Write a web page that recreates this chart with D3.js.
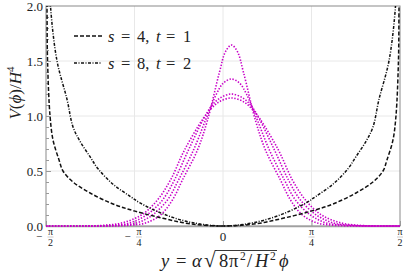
<!DOCTYPE html>
<html>
<head>
<meta charset="utf-8">
<script src="https://cdnjs.cloudflare.com/ajax/libs/d3/7.8.5/d3.min.js"></script>
<style>
body { margin: 0; background: #fff; }
svg text { font-family: "Liberation Serif", "DejaVu Serif", serif; fill: #222; white-space: pre; }
</style>
</head>
<body>
<svg id="chart" width="405" height="277"></svg>
<script>
// tick values and labels
var yTicks = [0, 0.5, 1.0, 1.5, 2.0];
var yTickLabels = ["0.0", "0.5", "1.0", "1.5", "2.0"];
var xTicks = [-Math.PI / 2, -Math.PI / 4, 0, Math.PI / 4, Math.PI / 2];
var xTickSigns = ["\u2212", "\u2212", "", "", ""];
var xTickNums = ["\u03c0", "\u03c0", "0", "\u03c0", "\u03c0"];
var xTickDens = ["2", "4", "", "4", "2"];

// s = 4, t = 1 (dashed)
var dashX = [-1.565, -1.562, -1.557, -1.535, -1.508, -1.455, -1.420, -1.331, -1.180, -0.976, -0.781, -0.532, -0.293, 0,
             0.293, 0.532, 0.781, 0.976, 1.180, 1.331, 1.420, 1.455, 1.508, 1.535, 1.557, 1.562, 1.565];
var dashV = [2.3, 2.0, 1.5, 1.0, 0.78, 0.60, 0.50, 0.40, 0.30, 0.20, 0.135, 0.07, 0.02, 0,
             0.02, 0.07, 0.135, 0.20, 0.30, 0.40, 0.50, 0.60, 0.78, 1.0, 1.5, 2.0, 2.3];

// s = 8, t = 2 (dash-dot)
var dotDashX = [-1.540, -1.531, -1.473, -1.384, -1.331, -1.269, -1.180, -1.109, -0.976, -0.825, -0.737, -0.532, -0.293, 0,
                0.293, 0.532, 0.737, 0.825, 0.976, 1.109, 1.180, 1.269, 1.331, 1.384, 1.473, 1.531, 1.540];
var dotDashV = [2.3, 2.0, 1.5, 1.15, 0.90, 0.77, 0.63, 0.52, 0.38, 0.27, 0.21, 0.11, 0.035, 0,
                0.035, 0.11, 0.21, 0.27, 0.38, 0.52, 0.63, 0.77, 0.90, 1.15, 1.5, 2.0, 2.3];

// magenta dotted curves
var bump1X = [-1.571, -1.1, -0.857, -0.688, -0.555, -0.449, -0.360, -0.227, -0.138, -0.031, 0.022, 0.075,
              0.128, 0.181, 0.288, 0.377, 0.510, 0.599, 0.705, 0.838, 1.007, 1.25, 1.571];
var bump1V = [0, 0, 0.005, 0.027, 0.10, 0.236, 0.418, 0.69, 0.96, 1.40, 1.585, 1.645,
              1.585, 1.40, 0.96, 0.69, 0.418, 0.236, 0.10, 0.027, 0.005, 0, 0];
var bump2X = [-1.571, -1.2, -0.946, -0.768, -0.626, -0.493, -0.395, -0.262, -0.156, -0.058, 0.004, 0.075,
              0.146, 0.208, 0.306, 0.412, 0.545, 0.643, 0.776, 0.918, 1.096, 1.3, 1.571];
var bump2V = [0, 0, 0.005, 0.027, 0.10, 0.236, 0.418, 0.69, 0.96, 1.20, 1.30, 1.336,
              1.30, 1.20, 0.96, 0.69, 0.418, 0.236, 0.10, 0.027, 0.005, 0, 0];
var bump3X = [-1.571, -1.25, -1.008, -0.830, -0.679, -0.537, -0.431, -0.307, -0.174, -0.102, -0.032, 0.075,
              0.182, 0.252, 0.324, 0.457, 0.581, 0.687, 0.829, 0.980, 1.158, 1.35, 1.571];
var bump3V = [0, 0, 0.005, 0.027, 0.10, 0.236, 0.418, 0.69, 0.97, 1.09, 1.16, 1.20,
              1.16, 1.09, 0.97, 0.69, 0.418, 0.236, 0.10, 0.027, 0.005, 0, 0];
var bump4X = [-1.571, -1.3, -1.079, -0.901, -0.724, -0.582, -0.466, -0.342, -0.174, -0.102, -0.032, 0.075,
              0.182, 0.252, 0.324, 0.492, 0.616, 0.732, 0.874, 1.051, 1.229, 1.4, 1.571];
var bump4V = [0, 0, 0.005, 0.027, 0.10, 0.236, 0.418, 0.69, 0.98, 1.07, 1.13, 1.164,
              1.13, 1.07, 0.98, 0.69, 0.418, 0.236, 0.10, 0.027, 0.005, 0, 0];

var svg = d3.select("#chart");
var padL = 46, padR = 400, padT = 6, padB = 226;

var x = d3.scaleLinear().domain([-Math.PI / 2, Math.PI / 2]).range([padL, padR]);
var y = d3.scaleLinear().domain([0, 2]).range([padB, padT]);

svg.append("defs").append("clipPath").attr("id", "plotclip")
    .append("rect")
    .attr("x", padL).attr("y", padT)
    .attr("width", padR - padL).attr("height", padB - padT + 2);

// grid
var grid = svg.append("g").attr("class", "grid");
grid.selectAll("line.gx")
    .data(xTicks.slice(1, 4))
    .enter().append("line")
    .attr("x1", function(d) { return x(d); })
    .attr("x2", function(d) { return x(d); })
    .attr("y1", padT).attr("y2", padB)
    .style("stroke", "#e8e8e8").style("stroke-width", 1);
grid.selectAll("line.gy")
    .data(yTicks.slice(1, 4))
    .enter().append("line")
    .attr("y1", function(d) { return y(d); })
    .attr("y2", function(d) { return y(d); })
    .attr("x1", padL).attr("x2", padR)
    .style("stroke", "#e8e8e8").style("stroke-width", 1);

// frame: top/right thin, left/bottom axes a bit heavier
svg.append("rect")
    .attr("x", padL).attr("y", padT)
    .attr("width", padR - padL).attr("height", padB - padT)
    .style("fill", "none").style("stroke", "#8a8a8a").style("stroke-width", 1);
svg.append("line").attr("x1", padL).attr("x2", padR).attr("y1", padB + 0.5).attr("y2", padB + 0.5)
    .style("stroke", "#a0a0a0").style("stroke-width", 1.5);

// y axis with minor ticks inside
var yAxis = d3.axisRight(y)
    .tickValues(d3.range(0, 2.01, 0.1))
    .tickSize(3)
    .tickFormat("");
var ya = svg.append("g").attr("transform", "translate(" + padL + ",0)").call(yAxis);
ya.select(".domain").remove();
ya.selectAll(".tick line")
    .attr("x2", function(d) { return Math.abs(d * 2 - Math.round(d * 2)) < 1e-6 ? 5 : 3; })
    .style("stroke", "#999");

svg.selectAll("text.ylab")
    .data(yTicks)
    .enter().append("text")
    .attr("x", padL - 3)
    .attr("y", function(d) { return y(d) + 4.5; })
    .attr("text-anchor", "end")
    .style("font-size", "13px")
    .text(function(d, i) { return yTickLabels[i]; });

// x ticks
var xAxis = d3.axisTop(x).tickValues(xTicks).tickSize(5).tickFormat("");
var xa = svg.append("g").attr("transform", "translate(0," + padB + ")").call(xAxis);
xa.select(".domain").remove();
xa.selectAll(".tick line").style("stroke", "#999");

// x tick labels: sign, then a small stacked fraction
var xl = svg.selectAll("g.xlab")
    .data(xTicks)
    .enter().append("g")
    .attr("transform", function(d) { return "translate(" + x(d) + ",0)"; });
xl.each(function(d, i) {
    var g = d3.select(this);
    if (xTickDens[i] === "") {
        g.append("text").attr("x", 0).attr("y", 241)
            .attr("text-anchor", "middle").style("font-size", "13px")
            .text(xTickNums[i]);
        return;
    }
    var fx = xTickSigns[i] ? 4.5 : 0;
    if (xTickSigns[i]) {
        g.append("text").attr("x", -7).attr("y", 240)
            .attr("text-anchor", "middle").style("font-size", "11px")
            .text(xTickSigns[i]);
    }
    g.append("text").attr("x", fx).attr("y", 234.5)
        .attr("text-anchor", "middle").style("font-size", "10px")
        .text(xTickNums[i]);
    g.append("line").attr("x1", fx - 3).attr("x2", fx + 3)
        .attr("y1", 237).attr("y2", 237)
        .style("stroke", "#999").style("stroke-width", 0.5);
    g.append("text").attr("x", fx).attr("y", 245.5)
        .attr("text-anchor", "middle").style("font-size", "10px")
        .text(xTickDens[i]);
});

// curves
var line = d3.line()
    .x(function(d) { return x(d[0]); })
    .y(function(d) { return y(d[1]); })
    .curve(d3.curveCatmullRom.alpha(0.5));

var plot = svg.append("g").attr("clip-path", "url(#plotclip)");

var bumps = [[bump1X, bump1V], [bump2X, bump2V], [bump3X, bump3V], [bump4X, bump4V]];
plot.selectAll("path.bump")
    .data(bumps)
    .enter().append("path")
    .attr("d", function(d) { return line(d3.zip(d[0], d[1])); })
    .style("fill", "none")
    .style("stroke", "#c800c8")
    .style("stroke-width", 1.6)
    .style("stroke-dasharray", "1.4,1.6");

plot.append("path")
    .attr("d", line(d3.zip(dashX, dashV)))
    .style("fill", "none").style("stroke", "#111")
    .style("stroke-width", 1.5)
    .style("stroke-dasharray", "4,2");

plot.append("path")
    .attr("d", line(d3.zip(dotDashX, dotDashV)))
    .style("fill", "none").style("stroke", "#111")
    .style("stroke-width", 1.5)
    .style("stroke-dasharray", "3,1.5,1,1.5");

// place a row of text pieces at fixed x positions
function pieces(list, base) {
    return list.map(function(p) {
        return svg.append("text")
            .attr("x", p.x).attr("y", base + (p.dy || 0))
            .style("font-size", p.fs + "px")
            .style("font-style", p.it ? "italic" : "normal")
            .text(p.t);
    });
}

// legend
var legendLabels = [["4", "1"], ["8", "2"]];
var legendDash = ["4,2", "3,1.5,1,1.5"];
var legendY = [36, 63];
legendLabels.forEach(function(l, i) {
    svg.append("line")
        .attr("x1", 74).attr("x2", 102)
        .attr("y1", legendY[i]).attr("y2", legendY[i])
        .style("stroke", "#111").style("stroke-width", 1.5)
        .style("stroke-dasharray", legendDash[i]);
    pieces([
        {t: "s", it: true, fs: 16.5, x: 108},
        {t: "=", fs: 16.5, x: 121},
        {t: l[0] + ",", fs: 16.5, x: 137},
        {t: "t", it: true, fs: 16.5, x: 156},
        {t: "=", fs: 16.5, x: 166},
        {t: l[1], fs: 16.5, x: 183}
    ], legendY[i] + 5.5);
});

// y label
var yl = svg.append("text")
    .attr("transform", "translate(21,93) rotate(-90)")
    .attr("text-anchor", "middle")
    .style("font-size", "17px");
yl.append("tspan").style("font-style", "italic").text("V");
yl.append("tspan").text("(");
yl.append("tspan").style("font-style", "italic").text("\u03d5");
yl.append("tspan").text(")/");
yl.append("tspan").style("font-style", "italic").text("H");
yl.append("tspan").attr("dy", -7).style("font-size", "11px").text("4");

// x label
var xlab = pieces([
    {t: "y", it: true, fs: 18.5, x: 161},
    {t: "=", fs: 18.5, x: 176},
    {t: "\u03b1", it: true, fs: 18.5, x: 192},
    {t: "\u221a", fs: 21, x: 204},
    {t: "8", fs: 18.5, x: 219},
    {t: "\u03c0", fs: 18.5, x: 229},
    {t: "2", fs: 11.5, x: 240, dy: -7.5},
    {t: "/", fs: 18.5, x: 247},
    {t: "H", it: true, fs: 18.5, x: 255},
    {t: "2", fs: 11.5, x: 270, dy: -7.5},
    {t: "\u03d5", it: true, fs: 18.5, x: 279}
], 267);
// vinculum joined to the top of the radical glyph
var rb = xlab[3].node().getBBox();
var rootTop = Math.max(rb.y + 2.5, 249);
svg.append("line")
    .attr("x1", rb.x + rb.width - 1.2).attr("x2", 277)
    .attr("y1", rootTop).attr("y2", rootTop)
    .style("stroke", "#222").style("stroke-width", 0.9);
</script>
</body>
</html>
